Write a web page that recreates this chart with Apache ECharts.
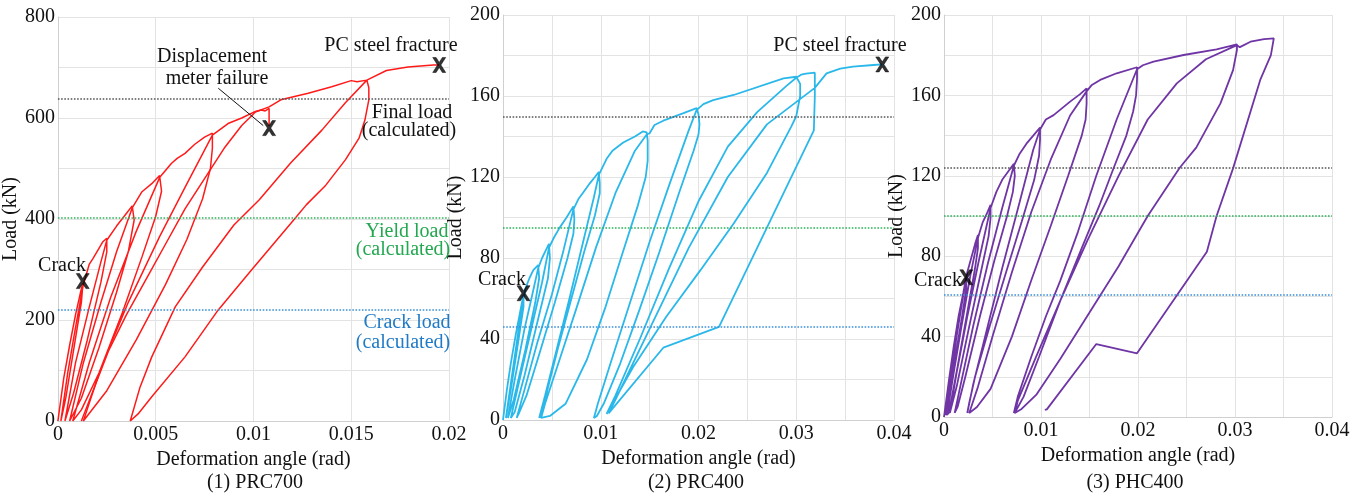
<!DOCTYPE html>
<html>
<head>
<meta charset="utf-8">
<title>Load - deformation angle</title>
<script src="https://cdn.jsdelivr.net/npm/echarts@6.0.0/dist/echarts.min.js"></script>
<style>
  html, body { margin: 0; padding: 0; background: #fff; }
  #main { width: 1358px; height: 497px; }
</style>
</head>
<body>
<div id="main"></div>
<script>
// ---- data: [deformation angle (rad), load (kN)] ----

// (1) PRC700, cycles up to displacement meter failure
var prc700Cycles = [
    [0, 0], [0.0003, 85], [0.0006, 150], [0.0009, 210], [0.0012, 262], [0.00128, 272],
    [0.0012, 235], [0.0008, 140], [0.0004, 45], [0.00015, 0],
    [0.0005, 95], [0.0009, 185], [0.0013, 270],
    [0.0016, 310], [0.0018, 322], [0.0021, 342], [0.0023, 355], [0.0025, 362],
    [0.0025, 335], [0.0022, 275], [0.0015, 160], [0.0008, 55], [0.00036, 0],
    [0.0009, 115], [0.0016, 225], [0.0022, 315], [0.0025, 358],
    [0.003, 386], [0.0035, 411], [0.0038, 426],
    [0.0039, 398], [0.0036, 335], [0.003, 255], [0.0021, 145], [0.0012, 45], [0.0006, 0],
    [0.0013, 115], [0.0022, 235], [0.003, 335], [0.0038, 422],
    [0.0043, 454], [0.0048, 470], [0.0052, 486],
    [0.0053, 455], [0.005, 405], [0.0043, 325], [0.0033, 215], [0.0021, 95], [0.0012, 22], [0.00076, 0],
    [0.0016, 115], [0.0027, 245], [0.004, 375], [0.0052, 482],
    [0.0058, 510], [0.0061, 520], [0.0065, 530], [0.007, 548], [0.0075, 562], [0.0079, 570],
    [0.0079, 540], [0.0078, 500], [0.0074, 440], [0.0066, 360], [0.0055, 270], [0.004, 160], [0.0025, 60], [0.0013, 0],
    [0.0022, 105], [0.0036, 235], [0.0052, 365], [0.0066, 470], [0.0079, 566],
    [0.0087, 589], [0.0094, 600], [0.0101, 613], [0.0104, 616], [0.0106, 614], [0.0108, 619], [0.0108, 584]
];

// (1) PRC700, reloading after the failure, last loop and push to fracture
var prc700AfterFailure = [
    [0.0012, 0], [0.0018, 60], [0.0026, 140], [0.0035, 210], [0.0045, 280], [0.0055, 350],
    [0.0065, 420], [0.0075, 480], [0.0085, 540], [0.0094, 585], [0.0101, 612], [0.0108, 622],
    [0.0114, 636], [0.0128, 649], [0.014, 662], [0.015, 674], [0.0153, 672], [0.0158, 675],
    [0.0159, 660], [0.0159, 636], [0.0157, 596], [0.0154, 560], [0.0147, 517], [0.0137, 467],
    [0.0127, 428], [0.0121, 400], [0.0099, 299], [0.0082, 220], [0.0065, 127], [0.0048, 48],
    [0.0041, 14], [0.0037, 0],
    [0.0042, 67], [0.0048, 127], [0.006, 226], [0.0074, 305], [0.009, 388], [0.0103, 438],
    [0.0119, 511], [0.0135, 576], [0.0147, 630], [0.0158, 675],
    [0.0168, 694], [0.0179, 701], [0.0192, 705], [0.0195, 705]
];

// (2) PRC400
var prc400Path = [
    [0, 0], [0.0004, 15], [0.0008, 28], [0.0013, 42], [0.0017, 52], [0.0021, 62],
    [0.0021, 56], [0.0016, 40], [0.0008, 15], [0.0003, 1],
    [0.0008, 18], [0.0014, 38], [0.0019, 55], [0.0023, 65],
    [0.0027, 70], [0.0031, 74], [0.0036, 76.5],
    [0.0037, 70], [0.0033, 58], [0.0023, 35], [0.0011, 10], [0.0005, 1],
    [0.0012, 20], [0.0022, 45], [0.003, 62], [0.0036, 75],
    [0.004, 80], [0.0044, 84], [0.0047, 87],
    [0.0048, 80], [0.0046, 70], [0.0036, 50], [0.0022, 22], [0.0012, 4], [0.0008, 1],
    [0.0017, 20], [0.0029, 45], [0.004, 68], [0.0047, 85],
    [0.0052, 90], [0.0058, 95], [0.0065, 100], [0.0072, 105.5],
    [0.0073, 99], [0.0072, 92], [0.0066, 80], [0.0053, 58], [0.0038, 34], [0.0024, 12], [0.0016, 3], [0.0014, 1],
    [0.0022, 15], [0.0035, 38], [0.005, 62], [0.0062, 84], [0.0072, 104],
    [0.0077, 109], [0.0083, 113], [0.0089, 117], [0.0094, 120], [0.0098, 122.5],
    [0.0099, 117], [0.0099, 112], [0.0094, 101], [0.0083, 83], [0.007, 60], [0.0056, 35], [0.0045, 14], [0.0039, 3], [0.0037, 1],
    [0.0043, 12], [0.0055, 35], [0.0068, 60], [0.0082, 88], [0.0093, 110], [0.0098, 121],
    [0.0102, 125], [0.0106, 129], [0.0112, 133], [0.0123, 137], [0.0135, 140], [0.0143, 142.5], [0.0147, 142],
    [0.0148, 138], [0.0148, 128], [0.0146, 120], [0.0138, 106], [0.0122, 82], [0.0105, 56], [0.0086, 30], [0.0064, 8], [0.0048, 2], [0.0039, 1],
    [0.0043, 8], [0.0058, 30], [0.0075, 55], [0.0095, 85], [0.0115, 112], [0.0135, 133], [0.0147, 141],
    [0.015, 141.6], [0.0155, 145.7], [0.0164, 147.8], [0.0184, 151.4], [0.0198, 154],
    [0.02, 151], [0.0201, 146], [0.02, 141], [0.0195, 133], [0.018, 112], [0.016, 83], [0.014, 55], [0.012, 28], [0.0103, 8], [0.0096, 2], [0.0093, 1],
    [0.0097, 8], [0.011, 28], [0.013, 58], [0.015, 88], [0.017, 116], [0.019, 143], [0.0198, 153],
    [0.0205, 156], [0.0215, 158], [0.0236, 160.5], [0.0287, 168.7], [0.03, 169.5],
    [0.0304, 166], [0.0304, 160], [0.03, 150], [0.0295, 145], [0.027, 122], [0.0236, 97], [0.0202, 74], [0.0167, 51], [0.0133, 26], [0.0112, 8], [0.0106, 3],
    [0.0115, 12], [0.014, 40], [0.017, 75], [0.02, 108], [0.023, 135], [0.026, 152], [0.029, 165], [0.03, 169],
    [0.0305, 170.5], [0.031, 171], [0.0319, 171.5],
    [0.0319, 160], [0.0318, 143], [0.0221, 46], [0.0164, 35.7], [0.0108, 3.3],
    [0.0115, 10], [0.015, 45], [0.019, 85], [0.023, 120], [0.027, 146], [0.0319, 164], [0.0331, 171.2],
    [0.0345, 173.5], [0.0358, 174.5], [0.0379, 175.3], [0.0388, 175.6]
];

// (3) PHC400
var phc400Path = [
    [0, 0], [0.0005, 18], [0.001, 35], [0.0015, 50], [0.002, 62], [0.0023, 70],
    [0.0023, 64], [0.0018, 48], [0.001, 25], [0.0004, 3], [0.0002, 1],
    [0.0007, 20], [0.0013, 40], [0.0019, 58], [0.0024, 72],
    [0.0028, 79], [0.0032, 86], [0.0035, 90.5],
    [0.0035, 84], [0.0032, 74], [0.0024, 52], [0.0014, 25], [0.0005, 2], [0.0003, 1],
    [0.001, 22], [0.0018, 45], [0.0027, 70], [0.0035, 89],
    [0.004, 97], [0.0044, 101], [0.0048, 105.5],
    [0.0048, 99], [0.0046, 90], [0.0038, 72], [0.0026, 45], [0.0013, 15], [0.0006, 2],
    [0.0013, 22], [0.0024, 50], [0.0036, 78], [0.0048, 104],
    [0.0054, 112], [0.006, 118], [0.0066, 122], [0.0072, 126],
    [0.0073, 120], [0.0071, 112], [0.0065, 100], [0.0052, 78], [0.0037, 50], [0.0022, 20], [0.0014, 5], [0.0011, 2],
    [0.0018, 18], [0.003, 45], [0.0045, 76], [0.006, 104], [0.0072, 125],
    [0.0078, 131], [0.0085, 136], [0.0092, 140], [0.0099, 144],
    [0.0099, 138], [0.0098, 130], [0.0093, 118], [0.008, 97], [0.0064, 72], [0.0047, 45], [0.0032, 20], [0.0026, 7], [0.0024, 2],
    [0.003, 16], [0.0045, 45], [0.006, 74], [0.0078, 107], [0.0092, 133], [0.0099, 143],
    [0.0105, 148], [0.0113, 150.2], [0.013, 156.9], [0.014, 160.5], [0.0147, 163.5],
    [0.0147, 156], [0.0146, 148], [0.0142, 140], [0.0128, 120], [0.011, 95], [0.009, 68], [0.007, 40], [0.0048, 14], [0.0034, 5], [0.0026, 2],
    [0.0035, 15], [0.005, 40], [0.007, 72], [0.009, 102], [0.011, 128], [0.013, 150], [0.0147, 162],
    [0.0152, 165], [0.0161, 167.7], [0.0178, 171], [0.0199, 174],
    [0.0199, 168], [0.0198, 160], [0.0195, 152], [0.0188, 140], [0.0175, 124], [0.016, 105], [0.0142, 84], [0.012, 58], [0.0098, 30], [0.0082, 10], [0.0074, 3], [0.0072, 2],
    [0.0076, 10], [0.009, 30], [0.0105, 50], [0.012, 68], [0.0138, 92], [0.0157, 120], [0.0178, 148], [0.0199, 173],
    [0.0205, 175], [0.0216, 176.8], [0.0247, 180.1], [0.0281, 182.9], [0.0302, 185.4],
    [0.0302, 182.6], [0.0298, 172.6], [0.0285, 156], [0.026, 134], [0.0243, 124], [0.021, 100], [0.018, 75], [0.015, 52], [0.012, 29], [0.0095, 11], [0.008, 4], [0.0073, 2],
    [0.0076, 8], [0.0095, 30], [0.012, 58], [0.0148, 88], [0.018, 120], [0.021, 148], [0.024, 166], [0.027, 178], [0.0302, 185],
    [0.0305, 184], [0.0316, 186.7], [0.033, 188], [0.034, 188.4],
    [0.0337, 180], [0.0326, 167.7], [0.0298, 123.7], [0.0281, 100], [0.0271, 82.2], [0.0199, 31.7], [0.0157, 36.3], [0.0106, 3.8], [0.0104, 3.5]
];

// calculated loads: final, yield, crack (kN)
var refLoadsPRC700 = [638, 402, 220];
var refLoadsPRC400 = [150, 95, 46];
var refLoadsPHC400 = [124, 100, 61];

// event markers
var crackMarks = [[0.00127, 277], [0.0021, 62.6], [0.0023, 69.5]];
var fractureMarks = [[0.0195, 705], [0.0388, 175.6]];
var meterFailureMark = [0.0108, 580];
var meterLeader = [[0.0082, 659], [0.0105, 585]];

// axes
var xMax = [0.02, 0.04, 0.04];
var yMax = [800, 200, 200];
var yStep = [100, 20, 20];
var yLabelStep = [200, 40, 40];
var panelNames = ['(1) PRC700', '(2) PRC400', '(3) PHC400'];

var serif = '"Liberation Serif", "Times New Roman", "DejaVu Serif", serif';
var ink = '#111';
var refColors = ['#555555', '#2eb35a', '#3d8fd6'];
var curveColors = ['#ff1a1a', '#2ab8ea', '#6f35a5'];

var grids = [
    {left: 55, top: 17, width: 394, height: 404},
    {left: 503, top: 15, width: 391, height: 405},
    {left: 944, top: 15, width: 388, height: 402}
];

var chart = echarts.init(document.getElementById('main'));

function makeXAxis(i) {
    return {
        gridIndex: i,
        type: 'value',
        min: 0,
        max: xMax[i],
        interval: 0.005,
        name: 'Deformation angle (rad)',
        nameLocation: 'middle',
        nameGap: 36,
        nameTextStyle: {fontFamily: serif, fontSize: 20, color: ink, verticalAlign: 'middle'},
        axisLine: {lineStyle: {color: '#d0d0d0'}},
        axisTick: {show: false},
        splitLine: {lineStyle: {color: '#e3e3e3'}},
        axisLabel: {
            fontFamily: serif, fontSize: 20, color: ink, margin: 4,
            formatter: function (v) {
                var k = Math.round(v / 0.005);
                if (xMax[i] > 0.02 && k % 2 !== 0) return '';
                return String(+(k * 0.005).toFixed(3));
            }
        }
    };
}

function makeYAxis(i) {
    return {
        gridIndex: i,
        type: 'value',
        min: 0,
        max: yMax[i],
        interval: yStep[i],
        name: 'Load (kN)',
        nameLocation: 'middle',
        nameGap: 28,
        nameRotate: 90,
        nameTextStyle: {fontFamily: serif, fontSize: 20, color: ink},
        axisLine: {show: true, lineStyle: {color: '#d0d0d0'}},
        axisTick: {show: false},
        splitLine: {lineStyle: {color: '#e3e3e3'}},
        axisLabel: {
            fontFamily: serif, fontSize: 20, color: ink, margin: 3,
            formatter: function (v) {
                return Math.round(v) % yLabelStep[i] === 0 ? String(Math.round(v)) : '';
            }
        }
    };
}

function refMarkLine(loads) {
    return {
        silent: true,
        symbol: 'none',
        label: {show: false},
        data: loads.map(function (v, k) {
            return {yAxis: v, lineStyle: {color: refColors[k], type: 'dotted', width: 1.6}};
        })
    };
}

function curve(i, data, withRefs, refs) {
    var s = {
        type: 'line',
        xAxisIndex: i,
        yAxisIndex: i,
        data: data,
        showSymbol: false,
        symbol: 'none',
        smooth: false,
        lineStyle: {color: curveColors[i], width: i === 0 ? 1.5 : 1.8},
        z: 3
    };
    if (withRefs) s.markLine = refMarkLine(refs);
    return s;
}

var xMark = 'path://M0,0L3.6,0L7,4.6L10.4,0L14,0L8.8,7L14,14L10.4,14L7,9.4L3.6,14L0,14L5.2,7Z';

function marks(i, pts) {
    return {
        type: 'scatter',
        xAxisIndex: i,
        yAxisIndex: i,
        data: pts,
        symbol: xMark,
        symbolSize: [13, 15],
        itemStyle: {color: '#000', borderColor: '#000', borderWidth: 0.6},
        z: 5
    };
}

function txt(str, x, y, color, align) {
    return {
        type: 'text',
        x: x,
        y: y,
        z: 10,
        style: {
            text: str,
            fill: color || ink,
            font: '20px ' + serif,
            textAlign: align || 'center',
            textVerticalAlign: 'middle'
        }
    };
}

var option = {
    animation: false,
    backgroundColor: '#fff',
    grid: grids,
    xAxis: [makeXAxis(0), makeXAxis(1), makeXAxis(2)],
    yAxis: [makeYAxis(0), makeYAxis(1), makeYAxis(2)],
    series: [
        curve(0, prc700Cycles, true, refLoadsPRC700),
        curve(0, prc700AfterFailure, false),
        curve(1, prc400Path, true, refLoadsPRC400),
        curve(2, phc400Path, true, refLoadsPHC400),
        {
            type: 'line', xAxisIndex: 0, yAxisIndex: 0, data: meterLeader,
            symbol: 'none', lineStyle: {color: ink, width: 1}, z: 4
        },
        marks(0, [crackMarks[0], fractureMarks[0], meterFailureMark]),
        marks(1, [crackMarks[1], fractureMarks[1]]),
        marks(2, [crackMarks[2]])
    ],
    graphic: [
        txt('PC steel fracture', 391, 46),
        txt('Displacement', 212, 57),
        txt('meter failure', 217, 79),
        txt('Final load', 412, 113),
        txt('(calculated)', 409, 131),
        txt('Yield load', 407, 232, '#22a84f'),
        txt('(calculated)', 403, 250, '#22a84f'),
        txt('Crack load', 407, 323, '#1f7ac7'),
        txt('(calculated)', 403, 343, '#1f7ac7'),
        txt('Crack', 62, 266),
        txt('PC steel fracture', 840, 46),
        txt('Crack', 502, 280),
        txt('Crack', 938, 281),
        txt(panelNames[0], 255, 483),
        txt(panelNames[1], 696, 483),
        txt(panelNames[2], 1135, 483)
    ]
};

chart.setOption(option);
</script>
</body>
</html>
